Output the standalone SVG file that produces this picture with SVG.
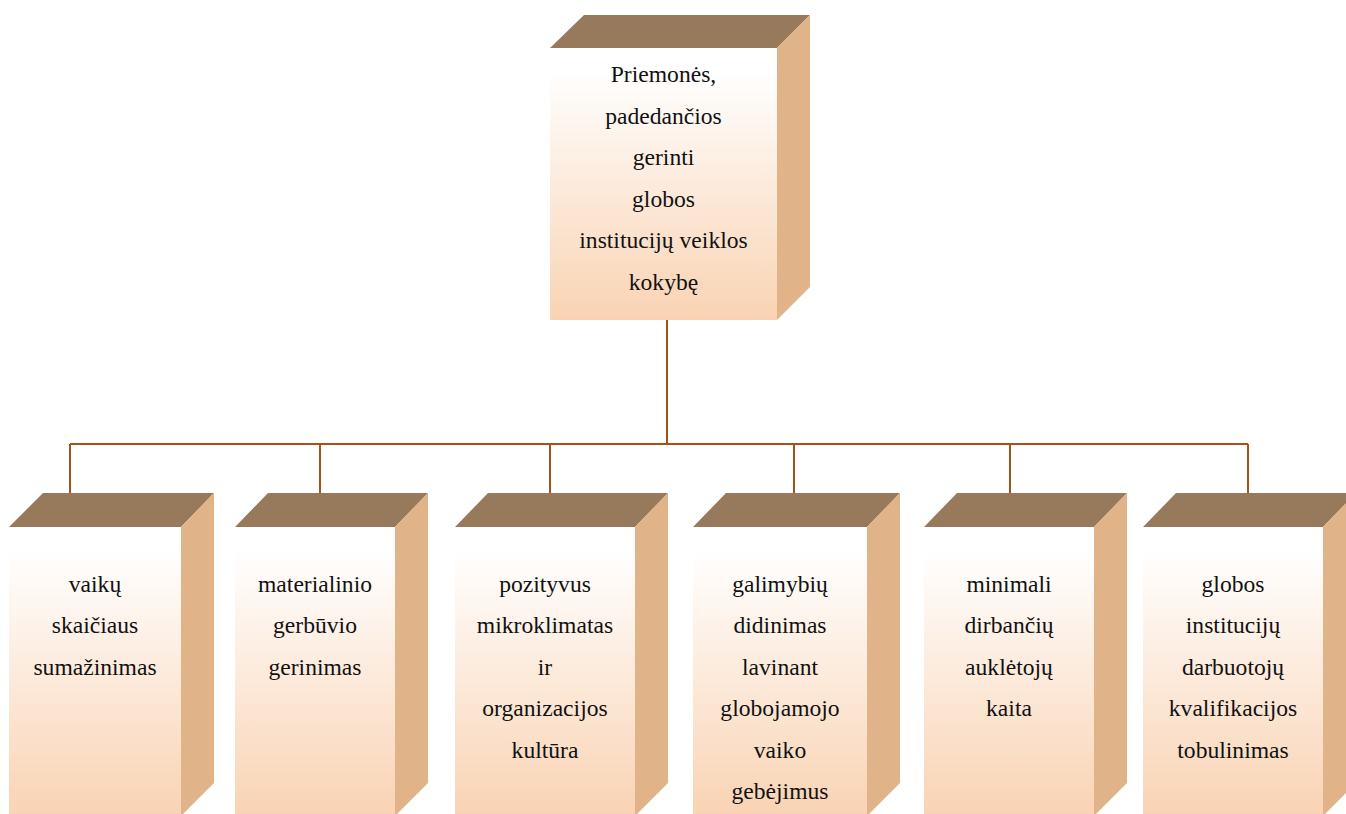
<svg xmlns="http://www.w3.org/2000/svg" width="1346" height="814" viewBox="0 0 1346 814">
<defs>
<linearGradient id="front" x1="0" y1="0" x2="0" y2="1">
<stop offset="0" stop-color="#FFFFFF"/>
<stop offset="0.08" stop-color="#FFFFFF"/>
<stop offset="1" stop-color="#F9D3B3"/>
</linearGradient>
<style>
.top{fill:#977A5C;}
.side{fill:#E0B488;}
.front{fill:url(#front);}
.t{font-family:"Liberation Serif","Times New Roman",serif;font-size:23.6px;fill:#111;text-anchor:middle;}
.conn{stroke:#A3521A;stroke-width:2;fill:none;}
</style>
</defs>
<rect width="1346" height="814" fill="#FFFFFF"/>
<g id="connectors">
<line class="conn" x1="667" y1="320" x2="667" y2="444"/>
<line class="conn" x1="70" y1="444" x2="1248" y2="444"/>
<line class="conn" x1="70" y1="444" x2="70" y2="493"/>
<line class="conn" x1="320" y1="444" x2="320" y2="493"/>
<line class="conn" x1="550" y1="444" x2="550" y2="493"/>
<line class="conn" x1="794" y1="444" x2="794" y2="493"/>
<line class="conn" x1="1010" y1="444" x2="1010" y2="493"/>
<line class="conn" x1="1248" y1="444" x2="1248" y2="493"/>
</g>
<g id="root">
<polygon class="top" points="550,48 584,15 810,15 777,48"/>
<polygon class="side" points="777,48 810,15 810,287 777,320"/>
<rect class="front" x="550" y="48" width="227" height="272"/>
<text class="t" x="663.5" y="82">Priemonės,</text>
<text class="t" x="663.5" y="124">padedančios</text>
<text class="t" x="663.5" y="165">gerinti</text>
<text class="t" x="663.5" y="207">globos</text>
<text class="t" x="663.5" y="248">institucijų veiklos</text>
<text class="t" x="663.5" y="290">kokybę</text>
</g>
<g id="n1">
<polygon class="top" points="9,527 43,493 214,493 181,527"/>
<polygon class="side" points="181,527 214,493 214,783 181,816"/>
<rect class="front" x="9" y="527" width="172" height="289"/>
<text class="t" x="95" y="592">vaikų</text>
<text class="t" x="95" y="633">skaičiaus</text>
<text class="t" x="95" y="675">sumažinimas</text>
</g>
<g id="n2">
<polygon class="top" points="235,527 268,493 428,493 395,527"/>
<polygon class="side" points="395,527 428,493 428,783 395,816"/>
<rect class="front" x="235" y="527" width="160" height="289"/>
<text class="t" x="315" y="592">materialinio</text>
<text class="t" x="315" y="633">gerbūvio</text>
<text class="t" x="315" y="675">gerinimas</text>
</g>
<g id="n3">
<polygon class="top" points="455,527 488,493 668,493 635,527"/>
<polygon class="side" points="635,527 668,493 668,783 635,816"/>
<rect class="front" x="455" y="527" width="180" height="289"/>
<text class="t" x="545" y="592">pozityvus</text>
<text class="t" x="545" y="633">mikroklimatas</text>
<text class="t" x="545" y="675">ir</text>
<text class="t" x="545" y="716">organizacijos</text>
<text class="t" x="545" y="758">kultūra</text>
</g>
<g id="n4">
<polygon class="top" points="693,527 726,493 900,493 867,527"/>
<polygon class="side" points="867,527 900,493 900,783 867,816"/>
<rect class="front" x="693" y="527" width="174" height="289"/>
<text class="t" x="780" y="592">galimybių</text>
<text class="t" x="780" y="633">didinimas</text>
<text class="t" x="780" y="675">lavinant</text>
<text class="t" x="780" y="716">globojamojo</text>
<text class="t" x="780" y="758">vaiko</text>
<text class="t" x="780" y="799">gebėjimus</text>
</g>
<g id="n5">
<polygon class="top" points="924,527 957,493 1127,493 1094,527"/>
<polygon class="side" points="1094,527 1127,493 1127,783 1094,816"/>
<rect class="front" x="924" y="527" width="170" height="289"/>
<text class="t" x="1009" y="592">minimali</text>
<text class="t" x="1009" y="633">dirbančių</text>
<text class="t" x="1009" y="675">auklėtojų</text>
<text class="t" x="1009" y="716">kaita</text>
</g>
<g id="n6">
<polygon class="top" points="1143,527 1176,493 1356,493 1323,527"/>
<polygon class="side" points="1323,527 1356,493 1356,783 1323,816"/>
<rect class="front" x="1143" y="527" width="180" height="289"/>
<text class="t" x="1233" y="592">globos</text>
<text class="t" x="1233" y="633">institucijų</text>
<text class="t" x="1233" y="675">darbuotojų</text>
<text class="t" x="1233" y="716">kvalifikacijos</text>
<text class="t" x="1233" y="758">tobulinimas</text>
</g>
</svg>
